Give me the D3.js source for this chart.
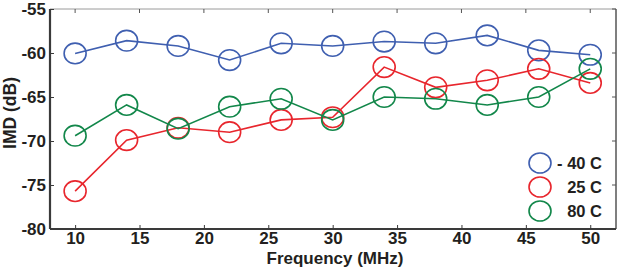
<!DOCTYPE html>
<html>
<head>
<meta charset="utf-8">
<script src="https://cdn.jsdelivr.net/npm/d3@7"></script>
<style>
  body { margin: 0; background: #fff; }
  text { font-family: "Liberation Sans", Arial, sans-serif; font-weight: 700; fill: #231f20; }
</style>
</head>
<body>
<div id="chart"></div>
<script>
// ===============================
// DATOS
// ===============================
const freqs = [10, 14, 18, 22, 26, 30, 34, 38, 42, 46, 50];
const imdMinus40 = [-60.05, -58.6, -59.2, -60.8, -58.9, -59.2, -58.7, -58.9, -58.0, -59.7, -60.2];
const imd25 = [-75.7, -69.9, -68.5, -69.0, -67.6, -67.3, -61.6, -63.9, -63.1, -61.8, -63.4];
const imd80 = [-69.4, -65.9, -68.6, -66.1, -65.2, -67.6, -65.0, -65.2, -65.9, -65.0, -61.8];
const xTicks = [10, 15, 20, 25, 30, 35, 40, 45, 50];
const yTicks = [-80, -75, -70, -65, -60, -55];
const seriesNames = ['- 40 C', '25 C', '80 C'];
const seriesColors = ['#3f5fb0', '#e8262d', '#12874a'];

const series = [imdMinus40, imd25, imd80].map((vals, i) => ({
  name: seriesNames[i],
  color: seriesColors[i],
  points: vals.map((v, j) => ({ f: freqs[j], v }))
}));

// ===============================
// RENDER
// ===============================
const width = 618, height = 269;
const m = { left: 50, right: 2, top: 9, bottom: 40 };
const fontFam = '"Liberation Sans", Arial, sans-serif';

const svg = d3.select('#chart').append('svg')
  .attr('width', width)
  .attr('height', height);

const x = d3.scaleLinear().domain([8.05, 52]).range([m.left, width - m.right]);
const y = d3.scaleLinear().domain([-80, -55]).range([height - m.bottom, m.top]);

// marco (arriba y derecha, gris)
svg.append('line')
  .attr('x1', m.left).attr('x2', width - m.right)
  .attr('y1', m.top).attr('y2', m.top)
  .attr('stroke', '#9a9a9a').attr('stroke-width', 1);
svg.append('line')
  .attr('x1', width - m.right).attr('x2', width - m.right)
  .attr('y1', m.top).attr('y2', height - m.bottom)
  .attr('stroke', '#555').attr('stroke-width', 1.5);

// ticks interiores arriba y a la derecha
svg.append('g').selectAll('line').data(xTicks).enter().append('line')
  .attr('x1', d => x(d)).attr('x2', d => x(d))
  .attr('y1', m.top).attr('y2', m.top + 4)
  .attr('stroke', '#555');
svg.append('g').selectAll('line').data(yTicks).enter().append('line')
  .attr('x1', width - m.right).attr('x2', width - m.right - 4)
  .attr('y1', d => y(d)).attr('y2', d => y(d))
  .attr('stroke', '#555');

// ejes
const xAxis = svg.append('g')
  .attr('transform', `translate(0,${height - m.bottom})`)
  .call(d3.axisBottom(x).tickValues(xTicks).tickSize(-4).tickPadding(3));
const yAxis = svg.append('g')
  .attr('transform', `translate(${m.left},0)`)
  .call(d3.axisLeft(y).tickValues(yTicks).tickSize(-4).tickPadding(4)
    .tickFormat(d => d));

[xAxis, yAxis].forEach(a => {
  a.attr('font-family', fontFam).attr('font-size', 17);
  a.select('.domain').attr('stroke', '#3a3a3a').attr('stroke-width', 2.2);
  a.selectAll('.tick line').attr('stroke', '#3a3a3a');
  a.selectAll('.tick text').attr('fill', '#231f20');
});
xAxis.select('.domain').attr('d', `M${m.left},0H${width - m.right}`);
yAxis.select('.domain').attr('d', `M0,${m.top}V${height - m.bottom}`);

// títulos
svg.append('text')
  .attr('x', 335)
  .attr('y', 264)
  .attr('text-anchor', 'middle')
  .attr('font-size', 17)
  .text('Frequency (MHz)');
svg.append('text')
  .attr('transform', `translate(16,113) rotate(-90)`)
  .attr('text-anchor', 'middle')
  .attr('font-size', 17.5)
  .text('IMD (dB)');

// series
const line = d3.line().x(d => x(d.f)).y(d => y(d.v));
series.forEach(s => {
  const g = svg.append('g');
  g.append('path')
    .attr('d', line(s.points))
    .attr('fill', 'none')
    .attr('stroke', s.color)
    .attr('stroke-width', 1.6);
  g.selectAll('ellipse').data(s.points).enter().append('ellipse')
    .attr('cx', d => x(d.f))
    .attr('cy', d => y(d.v))
    .attr('rx', 11).attr('ry', 10.3)
    .attr('fill', 'none')
    .attr('stroke', s.color)
    .attr('stroke-width', 1.6);
});

// leyenda
const legend = svg.append('g');
series.forEach((s, i) => {
  const ly = 163 + i * 24;
  legend.append('ellipse')
    .attr('cx', 540).attr('cy', ly)
    .attr('rx', 11).attr('ry', 10)
    .attr('fill', 'none')
    .attr('stroke', s.color)
    .attr('stroke-width', 1.6);
  legend.append('text')
    .attr('x', 602).attr('y', ly + 6)
    .attr('text-anchor', 'end')
    .attr('font-size', 16.5)
    .text(s.name);
});
</script>
</body>
</html>
